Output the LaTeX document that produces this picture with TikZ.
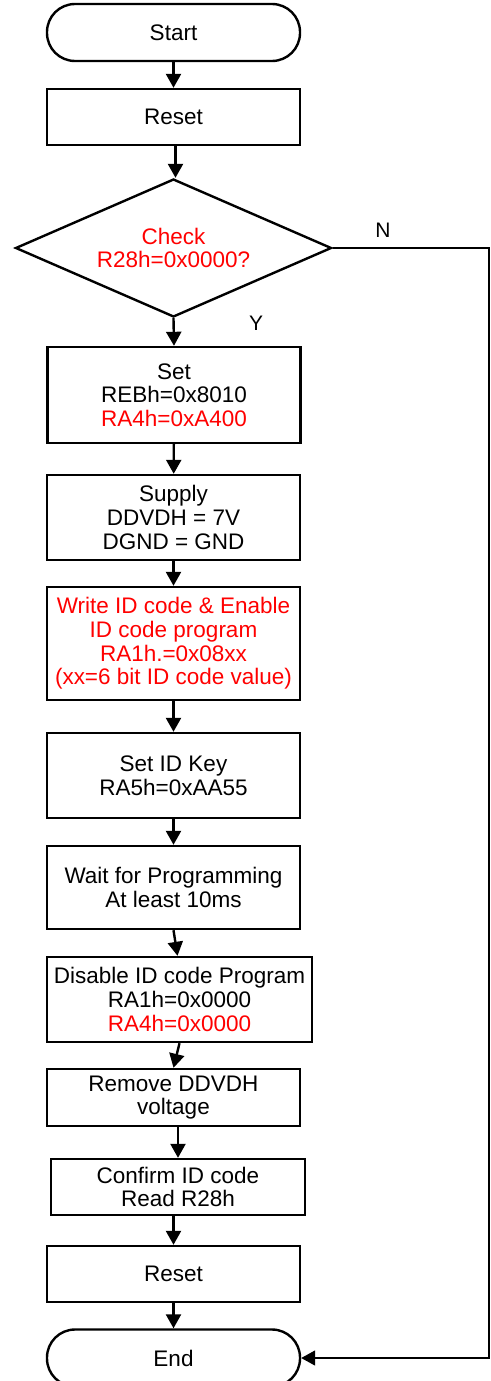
\documentclass[tikz,border=0pt]{standalone}
\usepackage{fontspec}
\setmainfont{Liberation Sans}
\usetikzlibrary{arrows.meta,shapes.geometric}
\begin{document}
\begin{tikzpicture}[x=1pt,y=-1pt,
  every node/.style={font=\fontsize{22.5}{23.7}\selectfont, align=center, inner sep=0pt},
  stepbox/.style={draw, line width=2.4pt, rectangle, minimum width=253pt},
  term/.style={draw, line width=2.4pt, rectangle, rounded corners=28pt, minimum width=253pt, minimum height=57pt},
  decision/.style={draw, line width=2.4pt, diamond, aspect=2.29, minimum width=316pt, minimum height=138pt},
  conn/.style={line width=2.4pt, -{Triangle[width=15pt,length=14pt]}},
  lbl/.style={font=\fontsize{21}{22}\selectfont}]
\useasboundingbox (0,0) rectangle (490,1381);
\clip (0,0) rectangle (490,1381);
\node[term] (start) at (173.5,32.5) {Start};
\node[stepbox, minimum height=56pt] (reset1) at (173.5,117) {Reset};
\node[decision] (dec) at (173.5,248) {\textcolor{red}{Check}\\\textcolor{red}{R28h=0x0000?}};
\node[stepbox, minimum height=96pt] (set) at (174,395) {Set\\REBh=0x8010\\\textcolor{red}{RA4h=0xA400}};
\node[stepbox, minimum height=85pt] (supply) at (173.5,517.5) {Supply\\DDVDH = 7V\\DGND = GND};
\node[stepbox, minimum height=113pt, text=red] (write) at (173.5,643.5) {Write ID code \& Enable\\ID code program\\RA1h.=0x08xx\\(xx=6 bit ID code value)};
\node[stepbox, minimum height=85pt] (key) at (173.5,775.5) {Set ID Key\\RA5h=0xAA55};
\node[stepbox, minimum height=83pt] (wait) at (173.5,887.5) {Wait for Programming\\At least 10ms};
\node[stepbox, minimum width=265pt, minimum height=85pt] (disable) at (179.5,999.5) {Disable ID code Program\\RA1h=0x0000\\\textcolor{red}{RA4h=0x0000}};
\node[stepbox, minimum height=57pt] (remove) at (173.5,1097.5) {Remove DDVDH\\voltage};
\node[stepbox, minimum width=254pt, minimum height=56pt] (confirm) at (178,1187) {Confirm ID code\\Read R28h};
\node[stepbox, minimum height=56pt] (reset2) at (173.5,1274) {Reset};
\node[term] (end) at (173.5,1358) {End};
\node[lbl] (nlab) at (383,230) {N};
\node[lbl] (ylab) at (256,323) {Y};
\coordinate (nr) at (489,248);
\draw[conn] (start) -- (reset1);
\draw[conn] ([xshift=2pt]reset1.south) -- ([xshift=2pt]dec.north);
\draw[conn] (dec.south) -- (set.north);
\draw[conn] (set) -- (supply);
\draw[conn] (supply) -- (write);
\draw[conn] (write) -- (key);
\draw[conn] (key) -- (wait);
\draw[conn] (wait.south) -- ([xshift=-2pt]disable.north);
\draw[conn] (disable.south) -- (remove.north);
\draw[conn] (remove.south -| confirm.north) -- (confirm.north);
\draw[conn] (confirm.south -| reset2.north) -- (reset2.north);
\draw[conn] (reset2) -- (end);
\draw[conn, line width=1.6pt] (dec.east) -- (nr) |- (end.east);
\end{tikzpicture}
\end{document}
